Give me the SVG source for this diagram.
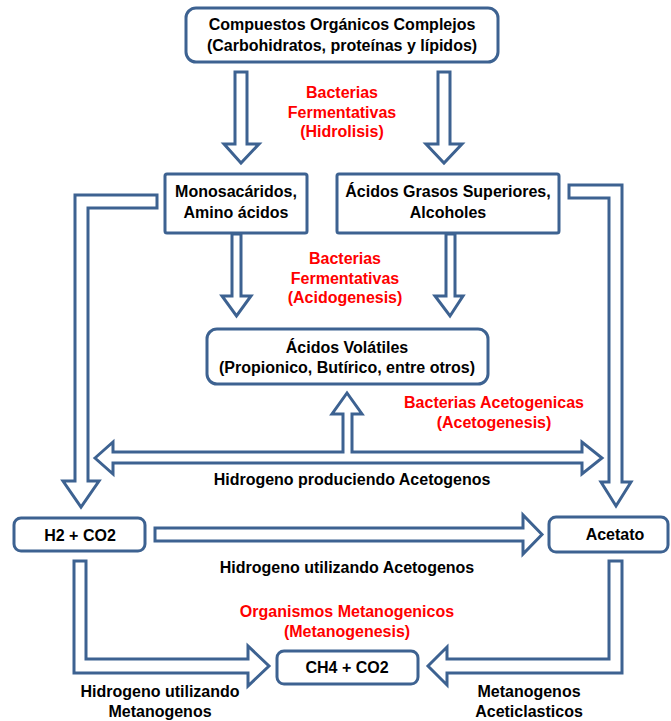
<svg xmlns="http://www.w3.org/2000/svg" width="671" height="721" viewBox="0 0 671 721">
<style>
.box{fill:#fff;stroke:#3D6291;stroke-width:3}
.arr{fill:#fff;stroke:#3D6291;stroke-width:3;stroke-linejoin:miter}
text{font-family:"Liberation Sans",Arial,sans-serif;font-weight:bold;font-size:16px;text-anchor:middle;fill:#000}
.red{fill:#FF0000}
</style>
<rect width="671" height="721" fill="#fff"/>
<g id="connectors">
<path class="arr" d="M235,72 L247,72 L247,144 L259,144 L241,163 L224,144 L235,144 Z"/>
<path class="arr" d="M438,72 L450,72 L450,144 L462,144 L444,163 L426,144 L438,144 Z"/>
<path class="arr" d="M157,195 L75,195 L75,481 L63,481 L81,507 L99,481 L88,481 L88,208 L157,208 Z"/>
<path class="arr" d="M569,185 L622,185 L622,482 L631,482 L616,506 L601,482 L609,482 L609,198 L569,198 Z"/>
<path class="arr" d="M232,234 L241,234 L241,296 L251,296 L236.5,316 L222,296 L232,296 Z"/>
<path class="arr" d="M446,234 L455,234 L455,296 L463,296 L450,316 L435,296 L446,296 Z"/>
<path class="arr" d="M95,458 L113,442 L113,452 L343,452 L343,414 L332,414 L347,393 L362,414 L352,414 L352,452 L582,452 L582,442 L602,458 L582,474 L582,463 L113,463 L113,474 Z"/>
<path class="arr" d="M155,528 L523,528 L523,515 L542,534.5 L523,554 L523,541 L155,541 Z"/>
<path class="arr" d="M74,561 L86,561 L86,659 L248,659 L248,646 L269,666 L248,686 L248,673 L74,673 Z"/>
<path class="arr" d="M622,561 L609,561 L609,659 L447,659 L447,647 L428,666 L447,685 L447,673 L622,673 Z"/>
</g>
<g id="compuestos">
<rect class="box" x="186" y="8" width="312" height="54" rx="10"/>
<text x="342" y="30">Compuestos Orgánicos Complejos</text>
<text x="342" y="51">(Carbohidratos, proteínas y lípidos)</text>
</g>
<g id="label-hidrolisis">
<text class="red" x="342" y="98">Bacterias</text>
<text class="red" x="342" y="118">Fermentativas</text>
<text class="red" x="342" y="137">(Hidrolisis)</text>
</g>
<g id="monosacaridos">
<rect class="box" x="165" y="174" width="142" height="59" rx="2"/>
<text x="236" y="197">Monosacáridos,</text>
<text x="236" y="218">Amino ácidos</text>
</g>
<g id="acidos-grasos">
<rect class="box" x="337" y="174" width="222" height="59" rx="2"/>
<text x="448" y="197">Ácidos Grasos Superiores,</text>
<text x="448" y="218">Alcoholes</text>
</g>
<g id="label-acidogenesis">
<text class="red" x="345" y="264">Bacterias</text>
<text class="red" x="345" y="284">Fermentativas</text>
<text class="red" x="345" y="303">(Acidogenesis)</text>
</g>
<g id="acidos-volatiles">
<rect class="box" x="207" y="329" width="281" height="55" rx="10"/>
<text x="347" y="353">Ácidos Volátiles</text>
<text x="347" y="373">(Propionico, Butírico, entre otros)</text>
</g>
<g id="label-acetogenesis">
<text class="red" x="494" y="408">Bacterias Acetogenicas</text>
<text class="red" x="494" y="428">(Acetogenesis)</text>
</g>
<g id="label-produciendo">
<text x="352" y="485">Hidrogeno produciendo Acetogenos</text>
</g>
<g id="h2co2">
<rect class="box" x="14" y="518" width="131" height="33" rx="7"/>
<text x="80" y="541">H2 + CO2</text>
</g>
<g id="acetato">
<rect class="box" x="549" y="517" width="119" height="35" rx="7"/>
<text x="615" y="540">Acetato</text>
</g>
<g id="label-utilizando">
<text x="347" y="573">Hidrogeno utilizando Acetogenos</text>
</g>
<g id="label-metanogenesis">
<text class="red" x="347" y="617">Organismos Metanogenicos</text>
<text class="red" x="347" y="637">(Metanogenesis)</text>
</g>
<g id="ch4co2">
<rect class="box" x="277" y="651" width="141" height="33" rx="7"/>
<text x="347" y="673">CH4 + CO2</text>
</g>
<g id="label-hidrogenotrofos">
<text x="160" y="697">Hidrogeno utilizando</text>
<text x="160" y="717">Metanogenos</text>
</g>
<g id="label-aceticlasticos">
<text x="529" y="697">Metanogenos</text>
<text x="529" y="717">Aceticlasticos</text>
</g>
</svg>
